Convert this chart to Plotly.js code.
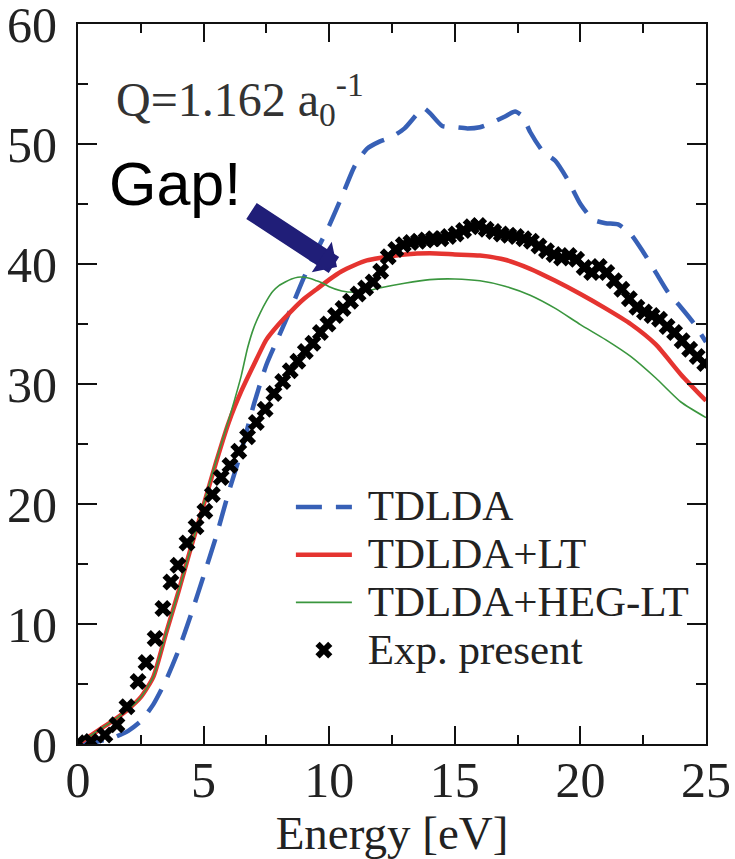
<!DOCTYPE html>
<html>
<head>
<meta charset="utf-8">
<script src="https://cdn.plot.ly/plotly-3.0.1.min.js"></script>
<style>
  html, body { margin: 0; padding: 0; background: #fff; }
  #chart { width: 735px; height: 859px; }
</style>
</head>
<body>
<div id="chart"></div>
<script>
// Loss spectrum at Q = 1.162 a0^-1: three TDLDA variants vs. measurement

// TDLDA (dashed blue)
const tdldaE = [0, 0.5, 1, 1.5, 2, 2.5, 3, 3.5, 4, 4.5, 5, 5.5, 6, 6.5, 7, 7.5, 8, 8.5, 9, 9.5,
  10, 10.5, 11, 11.5, 12, 12.5, 13, 13.5, 13.75, 14, 14.5, 15, 15.5, 16, 16.5, 17, 17.4, 17.7,
  18, 18.5, 19, 19.5, 20, 20.5, 21, 21.5, 22, 22.5, 23, 23.5, 24, 24.5, 25];
const tdldaV = [0, 0.1, 0.3, 0.6, 1.1, 1.9, 3.3, 5.3, 7.8, 10.8, 14.0, 17.3, 21.0, 24.4, 28.3, 31.6,
  34.0, 36.4, 38.9, 41.1, 43.2, 45.6, 48.1, 49.6, 50.2, 50.6, 51.3, 52.5, 53.0, 52.6, 51.5, 51.4,
  51.3, 51.4, 51.8, 52.3, 52.7, 52.3, 51.0, 49.4, 48.6, 47.0, 45.0, 43.7, 43.4, 43.3, 42.5, 41.0,
  39.3, 37.6, 36.4, 35.1, 33.5];

// TDLDA+LT (thick red)
const ltE = [0, 0.5, 1, 1.5, 2, 2.5, 3, 3.5, 4, 4.5, 5, 5.5, 6, 6.5, 7, 7.5, 8, 8.5, 9, 9.5,
  10, 10.5, 11, 11.5, 12, 13, 14, 15, 16, 17, 18, 19, 20, 21, 22, 23, 24, 25];
const ltV = [0, 0.7, 1.4, 2.1, 2.9, 3.9, 5.6, 9.2, 12.7, 16.4, 19.9, 23.5, 26.8, 29.4, 31.6, 33.7,
  35.0, 36.1, 37.1, 37.9, 38.7, 39.4, 39.9, 40.3, 40.5, 40.8, 40.9, 40.8, 40.7, 40.35, 39.6, 38.6,
  37.5, 36.3, 35.0, 33.3, 30.8, 28.6];

// TDLDA+HEG-LT (thin green)
const hegE = [0, 0.5, 1, 1.5, 2, 2.5, 3, 3.5, 4, 4.5, 5, 5.5, 6, 6.25, 6.5, 6.75, 7, 7.25, 7.5,
  7.75, 8, 8.25, 8.5, 8.75, 9, 9.25, 9.5, 9.75, 10, 10.5, 11, 11.5, 12, 13, 14, 15, 16, 17, 18,
  19, 20, 21, 22, 23, 24, 25];
const hegV = [0, 0.7, 1.4, 2.1, 2.9, 3.9, 5.6, 9.2, 12.7, 16.4, 20.0, 23.6, 27.0, 28.8, 30.7, 33.0,
  34.7, 35.9, 36.9, 37.7, 38.2, 38.5, 38.75, 38.9, 38.9, 38.8, 38.6, 38.4, 38.1, 37.75, 37.65,
  37.75, 38.0, 38.4, 38.7, 38.75, 38.6, 38.15, 37.4, 36.3, 34.95, 33.7, 32.3, 30.5, 28.5, 27.2];

// Measured points (black crosses)
const expE = [0, 0.52, 1.07, 1.55, 1.95, 2.39, 2.71, 3.07, 3.38, 3.7, 3.98, 4.34, 4.7, 5.05, 5.35,
  5.7, 6.05, 6.4, 6.75, 7.1, 7.45, 7.8, 8.15, 8.45, 8.75, 9.05, 9.35, 9.65, 9.95, 10.25, 10.55,
  10.85, 11.15, 11.45, 11.75, 12.05, 12.35, 12.65, 12.95, 13.25, 13.55, 13.85, 14.15, 14.45,
  14.75, 15.05, 15.35, 15.65, 15.95, 16.25, 16.55, 16.85, 17.15, 17.45, 17.75, 18.05, 18.35,
  18.65, 18.95, 19.25, 19.55, 19.85, 20.15, 20.45, 20.75, 21.05, 21.35, 21.65, 21.95, 22.25,
  22.55, 22.85, 23.15, 23.45, 23.75, 24.05, 24.35, 24.65, 24.95];
const expV = [0.1, 0.2, 0.75, 1.6, 3.1, 5.2, 6.8, 8.8, 11.3, 13.5, 14.9, 16.75, 18.1, 19.4, 20.8,
  22.2, 23.2, 24.4, 25.6, 26.8, 27.9, 29.2, 30.2, 31.1, 31.9, 32.7, 33.4, 34.3, 35.0, 35.7, 36.3,
  36.9, 37.5, 38.0, 38.5, 39.4, 40.6, 41.2, 41.6, 41.8, 41.9, 42.0, 42.1, 42.1, 42.3, 42.5, 42.8,
  43.1, 43.2, 42.9, 42.7, 42.5, 42.4, 42.3, 42.1, 41.9, 41.5, 41.1, 40.8, 40.5, 40.7, 40.4, 39.7,
  39.3, 39.8, 39.3, 38.6, 37.9, 37.1, 36.4, 36.0, 35.7, 35.4, 34.8, 34.3, 33.6, 32.9, 32.3, 31.7];

const seriesNames = ['TDLDA', 'TDLDA+LT', 'TDLDA+HEG-LT', 'Exp. present'];
const xTickVals = [0, 5, 10, 15, 20, 25];
const yTickVals = [0, 10, 20, 30, 40, 50, 60];

const SERIF = 'Liberation Serif, Times New Roman, serif';
const legendName = s => '<span style="font-size:43px">&nbsp;' + s + '</span>';

const traces = [
  { x: tdldaE, y: tdldaV, name: legendName(seriesNames[0]), type: 'scatter', mode: 'lines',
    line: { color: 'rgb(55,96,182)', width: 4.5, dash: '26px,14px', shape: 'spline', smoothing: 0.6 } },
  { x: ltE, y: ltV, name: legendName(seriesNames[1]), type: 'scatter', mode: 'lines',
    line: { color: 'rgb(229,52,48)', width: 4.5, shape: 'spline', smoothing: 0.6 } },
  { x: hegE, y: hegV, name: legendName(seriesNames[2]), type: 'scatter', mode: 'lines',
    line: { color: 'rgb(58,150,62)', width: 1.6, shape: 'spline', smoothing: 0.6 } },
  { x: expE, y: expV, name: legendName(seriesNames[3]), type: 'scatter', mode: 'markers',
    marker: { symbol: 'x', size: 15, color: '#000', line: { width: 0 } } }
];

// boxed frame with inside major + minor ticks on all four sides
const axisCommon = {
  showline: true, linewidth: 2, linecolor: '#111', mirror: 'ticks',
  ticks: 'inside', tickwidth: 2, tickcolor: '#111',
  showgrid: false, zeroline: false,
  ticklabeloverflow: 'allow',
  tickfont: { family: SERIF, size: 50, color: '#222' }
};

const layout = {
  width: 735, height: 859,
  margin: { l: 78, r: 29, t: 24, b: 115, pad: 0 },
  paper_bgcolor: '#fff', plot_bgcolor: '#fff',
  showlegend: true,
  xaxis: Object.assign({}, axisCommon, {
    range: [0, 25], tickvals: xTickVals, ticktext: xTickVals.map(String), ticklen: 18,
    minor: { dtick: 2.5, tick0: 0, ticks: 'inside', ticklen: 9, tickwidth: 2, tickcolor: '#111', showgrid: false },
    ticklabelstandoff: -9,
    title: { text: 'Energy [eV]', font: { family: SERIF, size: 47, color: '#222' }, standoff: 13 }
  }),
  yaxis: Object.assign({}, axisCommon, {
    range: [0, 60], tickvals: yTickVals, ticktext: yTickVals.map(String), ticklen: 19,
    minor: { dtick: 5, tick0: 0, ticks: 'inside', ticklen: 10, tickwidth: 2, tickcolor: '#111', showgrid: false },
    ticklabelstandoff: 9
  }),
  legend: {
    x: 0.339, y: 0.3693, xanchor: 'left', yanchor: 'top',
    bgcolor: 'rgba(0,0,0,0)', borderwidth: 0,
    font: { family: SERIF, size: 34.4, color: '#222' },
    itemwidth: 56, tracegroupgap: 0
  },
  annotations: [
    { xref: 'x', yref: 'y', x: 1.43, y: 53.7, xanchor: 'left', yanchor: 'middle',
      text: 'Q=1.162 a<sub>0</sub><sup>-1</sup>', showarrow: false,
      font: { family: SERIF, size: 48, color: '#333' } },
    { xref: 'x', yref: 'y', x: 1.17, y: 46.7, xanchor: 'left', yanchor: 'middle',
      text: 'Gap!', showarrow: false,
      font: { family: 'Liberation Sans, Arial, sans-serif', size: 61, color: '#000' } },
    { xref: 'x', yref: 'y', x: 10.31, y: 39.75, text: '', showarrow: true,
      ax: -87, ay: -57, arrowhead: 1, arrowsize: 0.32, arrowwidth: 19,
      arrowcolor: 'rgb(32,30,120)', standoff: 0 }
  ]
};

Plotly.newPlot('chart', traces, layout, { staticPlot: true, displayModeBar: false });
</script>
</body>
</html>
